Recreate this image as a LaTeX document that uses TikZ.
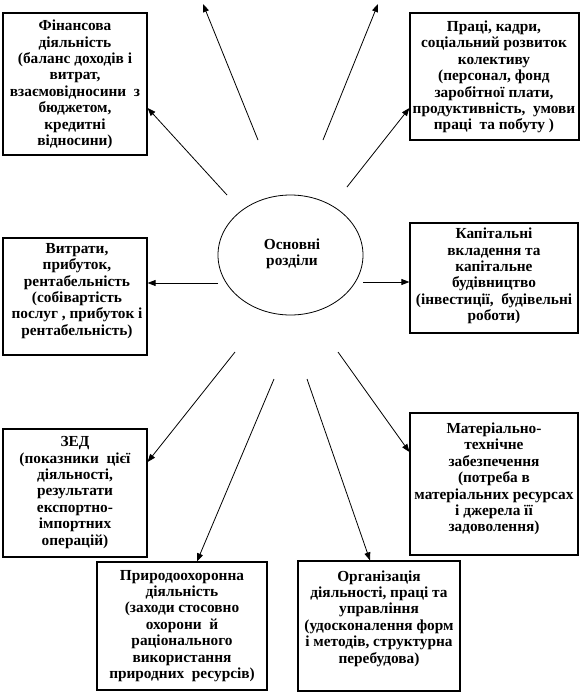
\documentclass[tikz,border=0pt]{standalone}
\usepackage{fontspec}
\setmainfont{Liberation Serif}
\usetikzlibrary{arrows.meta,calc,shapes.geometric,fit}
\begin{document}
\begin{tikzpicture}[x=0.75pt,y=-0.75pt,
  frame/.style={draw,line width=0.9pt,inner sep=0pt},
  txt/.style={font=\bfseries\fontsize{11.5}{12.3}\selectfont,align=center,inner sep=0pt},
  conn/.style={line width=0.6pt},
  arr/.style={conn,-{Triangle[length=6pt,width=4.5pt]}}]
\fill[white] (0,0) rectangle (582,693);
\useasboundingbox (0,0) rectangle (582,693);

% frames
\node[frame,fit={(3,13) (147,155)}] (b1) {};
\node[frame,fit={(410,13) (579,140)}] (b2) {};
\node[frame,fit={(3,238) (147,355)}] (b3) {};
\node[frame,fit={(410,223) (578,333)}] (b4) {};
\node[frame,fit={(3,429) (147,557)}] (b5) {};
\node[frame,fit={(410,413) (578,555)}] (b6) {};
\node[frame,fit={(97,562) (267,690)}] (b7) {};
\node[frame,fit={(298,561) (460,691)}] (b8) {};

% centre
\node[draw,ellipse,line width=0.6pt,minimum width=108.75pt,minimum height=90pt,inner sep=0pt] (c) at (290.5,255) {};
\node[txt] (ct) at (292,254) {Основні\\розділи};

% texts
\node[txt] (t1) at (75,84.5) {Фінансова\\діяльність\\(баланс доходів і\\витрат,\\взаємовідносини~ з\\бюджетом,\\кредитні\\відносини)};
\node[txt] (t2) at (494,77) {Праці, кадри,\\соціальний розвиток\\колективу\\(персонал, фонд\\заробітної плати,\\продуктивність,~ умови\\праці~ та побуту )};
\node[txt] (t3) at (77,291) {Витрати,\\прибуток,\\рентабельність\\(собівартість\\послуг , прибуток і\\рентабельність)};
\node[txt] (t4) at (494,276) {Капітальні\\вкладення та\\капітальне\\будівництво\\(інвестиції,~ будівельні\\роботи)};
\node[txt] (t5) at (75,492.5) {ЗЕД\\(показники~ цієї\\діяльності,\\результати\\експортно-\\імпортних\\операцій)};
\node[txt] (t6) at (494,479) {Матеріально-\\технічне\\забезпечення\\(потреба в\\матеріальних ресурсах\\і джерела її\\задоволення)};
\node[txt] (t7) at (182,626) {Природоохоронна\\діяльність\\(заходи стосовно\\охорони~ й\\раціонального\\використання\\природних~ ресурсів)};
\node[txt] (t8) at (379,618.5) {Організація\\діяльності, праці та\\управління\\(удосконалення форм\\і методів, структурна\\перебудова)};

% connector start points
\coordinate (s1) at (227,195);
\coordinate (s2) at (258,140);
\coordinate (s3) at (323,140);
\coordinate (s4) at (347,187);
\coordinate (s5) at (218,283);
\coordinate (s6) at (363,282);
\coordinate (s7) at (235,352);
\coordinate (s8) at (274,379);
\coordinate (s9) at (307,379);
\coordinate (s10) at (338,352);
\coordinate (e2) at (203,4);
\coordinate (e3) at (378,4);

\draw[arr] (s1) -- ($(b1.east)+(0,24)$);
\draw[arr] (s2) -- (e2);
\draw[arr] (s3) -- (e3);
\draw[arr] (s4) -- ($(b2.west)+(0,31.5)$);
\draw[arr] (s5) -- ($(b3.east)+(0,-13.5)$);
\draw[arr] (s6) -- ($(b4.west)+(0,4)$);
\draw[arr] (s7) -- ($(b5.east)+(0,-31)$);
\draw[arr] (s8) -- ($(b7.north)+(15,0)$);
\draw[arr] (s9) -- ($(b8.north)+(-9,0)$);
\draw[arr] (s10) -- ($(b6.west)+(0,-32)$);
\end{tikzpicture}
\end{document}
